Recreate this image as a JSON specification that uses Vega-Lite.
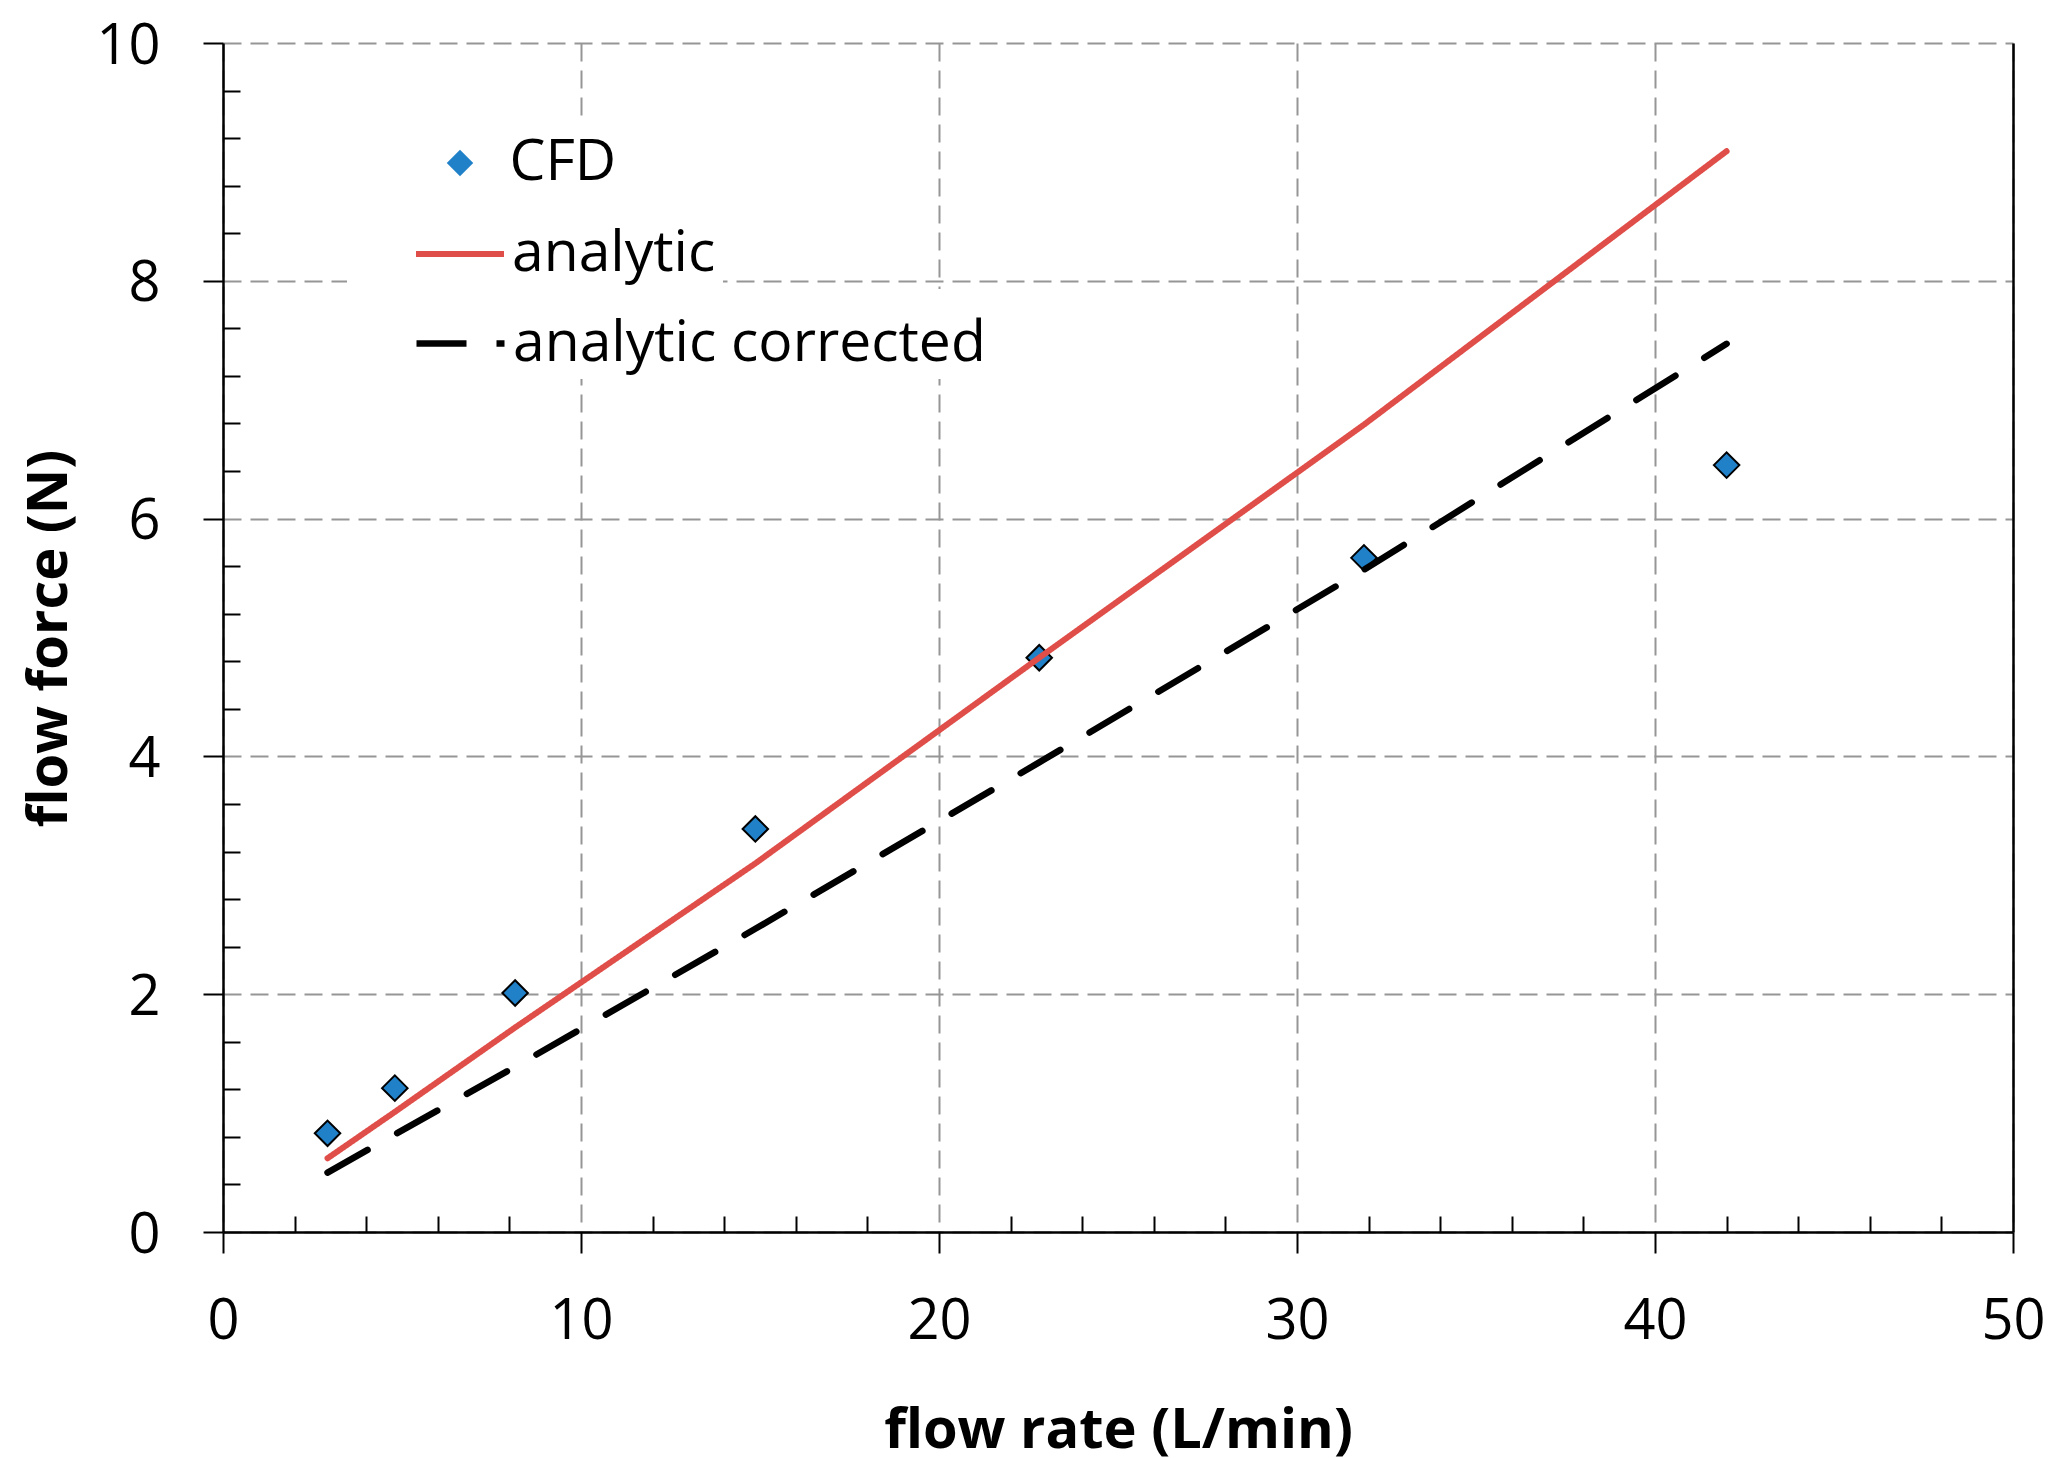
{
  "$schema": "https://vega.github.io/schema/vega-lite/v6.json",
  "width": 1790,
  "height": 1189,
  "autosize": {"type": "none"},
  "padding": {"left": 223, "top": 43, "right": 43, "bottom": 226},
  "background": "white",
  "config": {
    "view": {"stroke": null},
    "font": "Open Sans",
    "legend": {
      "orient": "none",
      "titleOrient": "left",
      "titleFontSize": 4,
      "fillColor": "white",
      "padding": 7,
      "labelFont": "Open Sans",
      "labelFontSize": 57,
      "labelColor": "black",
      "labelLimit": 2000
    }
  },
  "data": {
    "values": [
      {"series": "CFD", "rate": 2.92, "force": 0.83},
      {"series": "CFD", "rate": 4.80, "force": 1.21},
      {"series": "CFD", "rate": 8.16, "force": 2.01},
      {"series": "CFD", "rate": 14.87, "force": 3.39},
      {"series": "CFD", "rate": 22.80, "force": 4.83},
      {"series": "CFD", "rate": 31.87, "force": 5.67},
      {"series": "CFD", "rate": 42.0, "force": 6.45},
      {"series": "analytic", "rate": 2.92, "force": 0.62},
      {"series": "analytic", "rate": 4.80, "force": 1.01},
      {"series": "analytic", "rate": 8.16, "force": 1.72},
      {"series": "analytic", "rate": 14.87, "force": 3.10},
      {"series": "analytic", "rate": 22.80, "force": 4.83},
      {"series": "analytic", "rate": 31.87, "force": 6.79},
      {"series": "analytic", "rate": 42.0, "force": 9.09},
      {"series": "analytic corrected", "rate": 2.92, "force": 0.50},
      {"series": "analytic corrected", "rate": 4.80, "force": 0.82},
      {"series": "analytic corrected", "rate": 8.16, "force": 1.39},
      {"series": "analytic corrected", "rate": 14.87, "force": 2.55},
      {"series": "analytic corrected", "rate": 22.80, "force": 3.95},
      {"series": "analytic corrected", "rate": 31.87, "force": 5.57},
      {"series": "analytic corrected", "rate": 42.0, "force": 7.47}
    ]
  },
  "layer": [
    {
      "transform": [{"filter": "datum.series === 'CFD'"}],
      "mark": {"type": "point", "filled": true, "size": 650, "fill": "#2080c8", "stroke": "black", "strokeWidth": 2, "opacity": 1},
      "encoding": {
        "x": {
          "field": "rate",
          "type": "quantitative",
          "scale": {"domain": [0, 50], "nice": false, "zero": false},
          "axis": {
            "orient": "bottom",
            "values": [0, 10, 20, 30, 40, 50],
            "format": "d",
            "grid": true,
            "gridColor": "#969696",
            "gridDash": [18, 9],
            "gridWidth": 2,
            "domainColor": "black",
            "domainWidth": 2.5,
            "tickColor": "black",
            "tickWidth": 2,
            "tickSize": 21,
            "labelFont": "Open Sans",
            "labelFontSize": 56,
            "labelColor": "black",
            "labelPadding": 41,
            "labelFlush": false,
            "labelOverlap": false,
            "title": "flow rate (L/min)",
            "titleFont": "Open Sans",
            "titleFontSize": 56,
            "titleFontWeight": "bold",
            "titleColor": "black",
            "titleBaseline": "alphabetic",
            "titleY": 215
          }
        },
        "y": {
          "field": "force",
          "type": "quantitative",
          "scale": {"domain": [0, 10], "nice": false},
          "axis": {
            "orient": "left",
            "values": [0, 2, 4, 6, 8, 10],
            "format": "d",
            "grid": true,
            "gridColor": "#969696",
            "gridDash": [18, 9],
            "gridWidth": 2,
            "domainColor": "black",
            "domainWidth": 2.5,
            "tickColor": "black",
            "tickWidth": 2,
            "tickSize": 20,
            "labelFont": "Open Sans",
            "labelFontSize": 56,
            "labelColor": "black",
            "labelPadding": 43,
            "labelOffset": 3,
            "labelFlush": false,
            "labelOverlap": false,
            "title": "flow force (N)",
            "titleFont": "Open Sans",
            "titleFontSize": 56,
            "titleFontWeight": "bold",
            "titleColor": "black",
            "titleAngle": -90,
            "titleAlign": "center",
            "titleBaseline": "alphabetic",
            "titleX": -157,
            "titleY": 595
          }
        },
        "shape": {
          "field": "series",
          "type": "nominal",
          "scale": {"domain": ["CFD"], "range": ["diamond"]},
          "legend": {
            "legendX": 124,
            "legendY": 73,
            "padding": 18.5,
            "title": " ",
            "titlePadding": 66,
            "symbolSize": 700,
            "symbolFillColor": "#2080c8",
            "symbolStrokeColor": "black",
            "symbolStrokeWidth": 2,
            "symbolOpacity": 1,
            "labelOffset": 21,
            "labelExpr": "datum.label + '\u00a0\u00a0\u00a0\u00a0\u00a0\u00a0\u00a0\u00a0\u00a0\u00a0\u00a0\u00a0\u00a0\u00a0\u00a0\u00a0\u00a0\u00a0\u00a0\u00a0\u00a0\u00a0\u00a0\u00a0\u00a0\u00a0\u00a0\u00a0\u00a0'"
          }
        }
      }
    },
    {
      "transform": [{"filter": "datum.series === 'analytic'"}],
      "mark": {"type": "line", "color": "#e04e4a", "strokeWidth": 6, "strokeCap": "round"},
      "encoding": {
        "x": {
          "field": "rate",
          "type": "quantitative",
          "axis": {
            "orient": "bottom",
            "values": [2, 4, 6, 8, 12, 14, 16, 18, 22, 24, 26, 28, 32, 34, 36, 38, 42, 44, 46, 48],
            "domain": false,
            "grid": false,
            "labels": false,
            "tickColor": "black",
            "tickWidth": 2,
            "tickSize": -16,
            "title": null
          }
        },
        "y": {
          "field": "force",
          "type": "quantitative",
          "axis": {
            "orient": "left",
            "values": [0.4, 0.8, 1.2, 1.6, 2.4, 2.8, 3.2, 3.6, 4.4, 4.8, 5.2, 5.6, 6.4, 6.8, 7.2, 7.6, 8.4, 8.8, 9.2, 9.6],
            "domain": false,
            "grid": false,
            "labels": false,
            "tickColor": "black",
            "tickWidth": 2,
            "tickSize": -17,
            "title": null
          }
        },
        "strokeDash": {
          "field": "series",
          "type": "nominal",
          "scale": {"domain": ["analytic"], "range": [[1, 0]]},
          "legend": {
            "legendX": 124,
            "legendY": 157,
            "title": " ",
            "titlePadding": 59,
            "symbolType": "stroke",
            "symbolSize": 7744,
            "symbolStrokeColor": "#e04e4a",
            "symbolStrokeWidth": 6,
            "symbolOpacity": 1,
            "labelOffset": 5,
            "labelExpr": "datum.label + '\u00a0\u00a0\u00a0\u00a0\u00a0\u00a0\u00a0\u00a0\u00a0\u00a0\u00a0\u00a0\u00a0\u00a0\u00a0\u00a0\u00a0\u00a0\u00a0\u00a0\u00a0\u00a0\u00a0'"
          }
        }
      }
    },
    {
      "transform": [{"filter": "datum.series === 'analytic corrected'"}],
      "mark": {"type": "line", "strokeWidth": 6.5, "strokeCap": "round", "strokeDash": [46, 34]},
      "encoding": {
        "x": {"field": "rate", "type": "quantitative", "axis": null},
        "y": {
          "field": "force",
          "type": "quantitative",
          "axis": {
            "orient": "right",
            "domain": true,
            "domainColor": "black",
            "domainWidth": 2.5,
            "ticks": false,
            "labels": false,
            "grid": false,
            "title": null
          }
        },
        "color": {
          "field": "series",
          "type": "nominal",
          "scale": {"domain": ["analytic corrected"], "range": ["black"]},
          "legend": {
            "legendX": 124,
            "legendY": 246,
            "title": " ",
            "titlePadding": 59,
            "symbolType": "stroke",
            "symbolSize": 7744,
            "symbolStrokeColor": "black",
            "symbolStrokeWidth": 6.5,
            "symbolDash": [50, 30],
            "symbolOpacity": 1,
            "labelOffset": 5,
            "labelExpr": "datum.label + '\u00a0\u00a0\u00a0\u00a0\u00a0'"
          }
        }
      }
    }
  ],
  "resolve": {"axis": {"x": "independent", "y": "independent"}}
}
